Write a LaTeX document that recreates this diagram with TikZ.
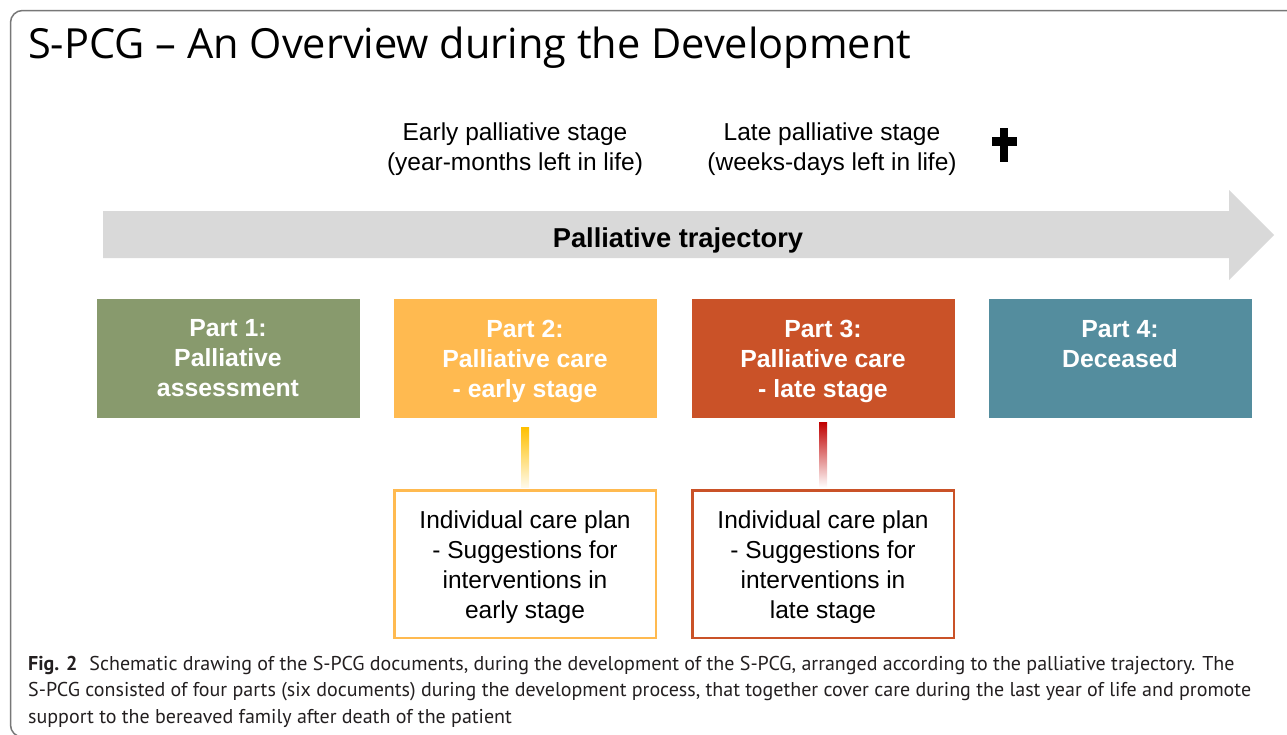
\documentclass[tikz,border=0pt]{standalone}
\usepackage{fontspec}
\setmainfont{Liberation Sans}
\newfontfamily\titlefont{Open Sans}
\newfontfamily\capfont{PT Sans}
\usetikzlibrary{calc}
\definecolor{pgreen}{HTML}{889A6D}
\definecolor{porange}{HTML}{FFBA50}
\definecolor{pred}{HTML}{CA5228}
\definecolor{pteal}{HTML}{548D9E}
\definecolor{arrowgray}{HTML}{D9D9D9}
\definecolor{framegray}{HTML}{777777}
\definecolor{captext}{HTML}{231F20}
\definecolor{gold}{HTML}{FFC000}
\definecolor{darkred}{HTML}{C00000}
\newcommand{\partpad}{\rule{0pt}{23pt}}
\newcommand{\planpad}{\rule{0pt}{24pt}}
\begin{document}
\begin{tikzpicture}[x=1pt,y=-1pt,
  partbox/.style={minimum width=263pt, minimum height=119pt, inner sep=0pt, text=white, align=center,
    font=\bfseries\fontsize{24.8}{30}\selectfont},
  planbox/.style={draw, line width=2.5pt, fill=white, minimum width=261.5pt, minimum height=147.5pt,
    inner sep=0pt, align=center, font=\fontsize{24.5}{30}\selectfont},
  stagelabel/.style={align=center, inner sep=0pt, font=\fontsize{24.5}{30}\selectfont}]
\useasboundingbox (0,0) rectangle (1287,734);
% frame
\draw[framegray, line width=1.5pt, rounded corners=12pt] (1300,10.5) -- (10.5,10.5) -- (10.5,737) -- (300,737);
% title
\node[anchor=base west, inner sep=0pt, font=\titlefont\fontsize{41.5}{48}\selectfont] (title) at (28,58)
  {S-PCG – An Overview during the Development};
% stage labels
\node[stagelabel] (early) at (515,149) {Early palliative stage\\(year-months left in life)};
\node[stagelabel] (late) at (832,149) {Late palliative stage\\(weeks-days left in life)};
% cross
\fill[black] (999.5,128) rectangle (1008,162);
\fill[black] (992,137) rectangle (1017,145.5);
% trajectory arrow
\fill[arrowgray] (103,211) -- (1229,211) -- (1229,190) -- (1274,235) -- (1229,280) -- (1229,258) -- (103,258) -- cycle;
\node[font=\bfseries\fontsize{27.3}{30}\selectfont, inner sep=0pt] (traj) at (678,240) {Palliative trajectory};
% parts
\node[partbox, fill=pgreen] (p1) at (228,358.5) {Part 1:\\Palliative\\assessment};
\node[partbox, fill=porange] (p2) at (525,358.5) {\partpad Part 2:\\Palliative care\\- early stage};
\node[partbox, fill=pred] (p3) at (823,358.5) {\partpad Part 3:\\Palliative care\\- late stage};
\node[partbox, fill=pteal] (p4) at (1120,358.5) {Part 4:\\Deceased\\\phantom{X}};
% care plans
\node[planbox, draw=porange] (c2) at (525,564) {\planpad Individual care plan\\- Suggestions for\\interventions in\\early stage};
\node[planbox, draw=pred] (c3) at (823,564) {\planpad Individual care plan\\- Suggestions for\\interventions in\\late stage};
% gradient connectors
\shade[top color=gold, bottom color=gold!8] ($(p2.south)+(-4,9)$) rectangle ($(c2.north)+(4,-1.5)$);
\shade[top color=darkred, bottom color=white] ($(p3.south)+(-4,4)$) rectangle ($(c3.north)+(4,-1.5)$);
% caption
\node[anchor=north west, inner sep=0pt, align=left, text=captext,
  font=\capfont\fontsize{20}{26.5}\selectfont] (cap) at (28,656)
  {\textbf{Fig. 2}\hspace{0.6em}Schematic drawing of the S-PCG documents, during the development of the S-PCG, arranged according to the palliative trajectory. The\\
   S-PCG consisted of four parts (six documents) during the development process, that together cover care during the last year of life and promote\\
   support to the bereaved family after death of the patient};
\end{tikzpicture}
\end{document}
